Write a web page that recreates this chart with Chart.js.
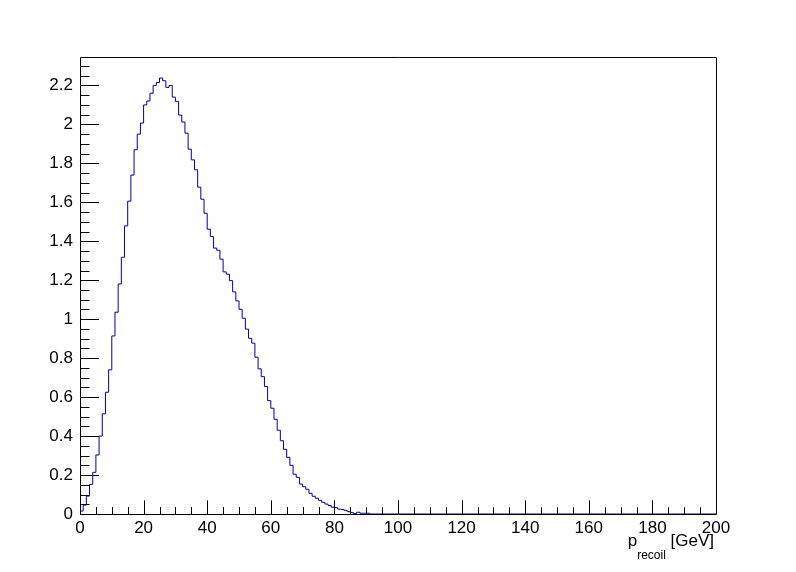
<!DOCTYPE html>
<html>
<head>
<meta charset="UTF-8" />
<title>p recoil</title>
<script src="https://cdn.jsdelivr.net/npm/chart.js"></script>
<style>
  html, body { margin: 0; padding: 0; background: #fff; }
  #wrap { width: 796px; height: 572px; }
</style>
</head>
<body>
<div id="wrap"><canvas id="hist" width="796" height="572"></canvas></div>
<script>
// bin edges: 200 bins of 1 GeV from 0 to 200
const binLow = 0;
const binWidth = 1;
// bin contents (bins 0..199)
const counts = [
  0.003, 0.015, 0.046, 0.092, 0.152, 0.214, 0.303, 0.400, 0.514, 0.625,
  0.740, 0.914, 1.036, 1.181, 1.318, 1.479, 1.606, 1.740, 1.870, 1.950,
  2.007, 2.100, 2.120, 2.160, 2.200, 2.215, 2.238, 2.224, 2.190, 2.200,
  2.140, 2.118, 2.048, 2.012, 1.955, 1.873, 1.818, 1.767, 1.678, 1.616,
  1.544, 1.462, 1.424, 1.365, 1.354, 1.308, 1.243, 1.231, 1.198, 1.140,
  1.094, 1.051, 1.005, 0.949, 0.902, 0.877, 0.805, 0.745, 0.705, 0.654,
  0.582, 0.543, 0.486, 0.430, 0.376, 0.332, 0.291, 0.250, 0.204, 0.188,
  0.154, 0.140, 0.127, 0.106, 0.091, 0.081, 0.070, 0.060, 0.051, 0.044,
  0.035, 0.033, 0.025, 0.023, 0.019, 0.012, 0.007, 0.002, 0.009, 0.004,
  0.004, 0.004, 0, 0, 0, 0, 0, 0, 0, 0,
  0, 0, 0, 0, 0, 0, 0, 0, 0, 0,
  0, 0, 0, 0, 0, 0, 0, 0, 0, 0,
  0, 0, 0, 0, 0, 0, 0, 0, 0, 0,
  0, 0, 0, 0, 0, 0, 0, 0, 0, 0,
  0, 0, 0, 0, 0, 0, 0, 0, 0, 0,
  0, 0, 0, 0, 0, 0, 0, 0, 0, 0,
  0, 0, 0, 0, 0, 0, 0, 0, 0, 0,
  0, 0, 0, 0, 0, 0, 0, 0, 0, 0,
  0, 0, 0, 0, 0, 0, 0, 0, 0, 0,
  0, 0, 0, 0, 0, 0, 0, 0, 0, 0
];
const xTicks = [0, 20, 40, 60, 80, 100, 120, 140, 160, 180, 200];
const yTicks = [0, 0.2, 0.4, 0.6, 0.8, 1, 1.2, 1.4, 1.6, 1.8, 2, 2.2];
const xRange = [0, 200];
const yRange = [0, 2.346];

const FONT = '"Liberation Sans", Arial, Helvetica, sans-serif';
const lineColor = "#000099";

// step outline: one point per bin low edge, plus the last upper edge
const points = counts.map((c, i) => ({ x: binLow + i * binWidth, y: c }));
points.push({ x: binLow + counts.length * binWidth, y: counts[counts.length - 1] });

// ROOT style frame with inner ticks
const rootFrame = {
  id: "rootFrame",
  afterDraw(chart) {
    const { ctx, chartArea: a, scales } = chart;
    const xs = scales.x, ys = scales.y;
    ctx.save();
    ctx.strokeStyle = "#000";
    ctx.lineWidth = 1;
    ctx.beginPath();
    ctx.rect(Math.round(a.left) + 0.5, Math.round(a.top) + 0.5,
             Math.round(a.right - a.left), Math.round(a.bottom - a.top));
    // x ticks: major 20, minor 5
    const xl = 0.03 * (a.bottom - a.top);
    for (let v = xRange[0]; v <= xRange[1]; v += 5) {
      const px = Math.round(xs.getPixelForValue(v)) + 0.5;
      const len = v % 20 === 0 ? xl : xl / 2;
      ctx.moveTo(px, a.bottom);
      ctx.lineTo(px, a.bottom - len);
    }
    // y ticks: major 0.2, minor 0.05
    const yl = 0.03 * (a.right - a.left);
    for (let i = 0; i * 0.05 <= yRange[1]; i++) {
      const py = Math.round(ys.getPixelForValue(i * 0.05)) + 0.5;
      const len = i % 4 === 0 ? yl : yl / 2;
      ctx.moveTo(a.left, py);
      ctx.lineTo(a.left + len, py);
    }
    ctx.stroke();

    // axis title with subscript, right aligned to the frame
    const big = "17px " + FONT, small = "12px " + FONT;
    ctx.fillStyle = "#000";
    ctx.textBaseline = "alphabetic";
    ctx.textAlign = "left";
    ctx.font = big;
    const wP = ctx.measureText("p").width;
    const wU = ctx.measureText(" [GeV]").width;
    ctx.font = small;
    const wS = ctx.measureText("recoil").width;
    let x0 = a.right - 2 - (wP + wS + wU);
    const base = 546;
    ctx.font = big;
    ctx.fillText("p", x0, base);
    ctx.font = small;
    ctx.fillText("recoil", x0 + wP, base + 13);
    ctx.font = big;
    ctx.fillText(" [GeV]", x0 + wP + wS, base);
    ctx.restore();
  }
};

new Chart(document.getElementById("hist"), {
  type: "line",
  data: {
    datasets: [{
      data: points,
      stepped: "after",
      borderColor: lineColor,
      borderWidth: 1,
      pointRadius: 0,
      fill: false
    }]
  },
  options: {
    responsive: false,
    animation: false,
    devicePixelRatio: 1,
    parsing: false,
    layout: { padding: { left: 0, right: 80, top: 57, bottom: 0 } },
    plugins: { legend: { display: false }, tooltip: { enabled: false } },
    scales: {
      x: {
        type: "linear",
        min: xRange[0],
        max: xRange[1],
        grid: { display: false, drawTicks: false, tickLength: 0 },
        border: { display: false },
        afterFit: s => { s.height = 58; },
        afterBuildTicks: s => { s.ticks = xTicks.map(v => ({ value: v })); },
        ticks: {
          padding: 4,
          color: "#000",
          maxRotation: 0,
          autoSkip: false,
          font: { family: FONT, size: 17 },
          callback: v => String(v)
        }
      },
      y: {
        type: "linear",
        min: yRange[0],
        max: yRange[1],
        grid: { display: false, drawTicks: false, tickLength: 0 },
        border: { display: false },
        afterFit: s => { s.width = 80; },
        afterBuildTicks: s => { s.ticks = yTicks.map(v => ({ value: v })); },
        ticks: {
          padding: 7,
          color: "#000",
          autoSkip: false,
          font: { family: FONT, size: 17 },
          callback: v => String(+v.toFixed(2))
        }
      }
    }
  },
  plugins: [rootFrame]
});
</script>
</body>
</html>
